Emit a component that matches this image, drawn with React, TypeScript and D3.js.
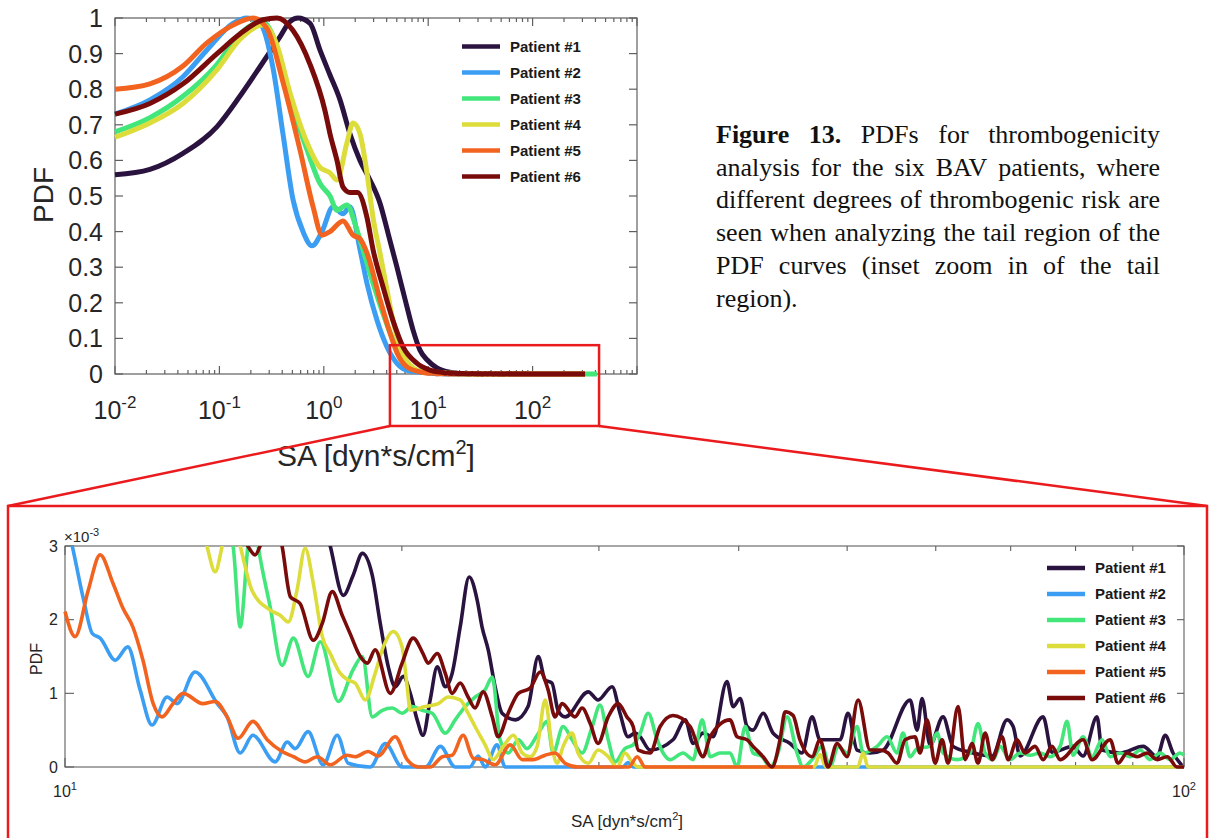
import React from "react";
import * as d3 from "d3";

type Pt = [number, number];

const patientNames = ["Patient #1", "Patient #2", "Patient #3", "Patient #4", "Patient #5", "Patient #6"];
const patientColors = ["#2b1340", "#3c9ef3", "#43e67b", "#dcdc3b", "#f1631f", "#7a0b0b"];

// Main body of each distribution: SA [dyn*s/cm^2] vs normalised PDF
const body1: Pt[] = [[0.01, 0.56], [0.0216, 0.575], [0.0448, 0.62], [0.095, 0.695], [0.157, 0.78], [0.245, 0.863], [0.38, 0.947], [0.474, 0.99], [0.566, 1.0], [0.738, 0.985], [0.92, 0.91], [1.146, 0.84], [1.43, 0.77], [1.78, 0.675], [2.22, 0.6], [2.77, 0.545], [3.45, 0.48], [4.12, 0.396], [5.02, 0.3], [6.0, 0.21], [7.15, 0.124], [8.34, 0.067], [9.75, 0.04], [12.1, 0.017]];
const body2: Pt[] = [[0.01, 0.73], [0.0216, 0.77], [0.0448, 0.835], [0.076, 0.91], [0.135, 0.985], [0.184, 1.0], [0.245, 0.985], [0.326, 0.86], [0.406, 0.675], [0.507, 0.49], [0.632, 0.4], [0.771, 0.36], [0.962, 0.4], [1.225, 0.47], [1.528, 0.45], [1.78, 0.47], [2.22, 0.35], [2.59, 0.255], [3.24, 0.15], [4.03, 0.076], [5.02, 0.03], [6.7, 0.008]];
const body3: Pt[] = [[0.01, 0.68], [0.0216, 0.72], [0.0448, 0.78], [0.095, 0.87], [0.157, 0.955], [0.26, 0.99], [0.326, 0.95], [0.474, 0.77], [0.69, 0.63], [0.92, 0.535], [1.146, 0.5], [1.337, 0.46], [1.667, 0.475], [2.0, 0.42], [2.37, 0.35], [2.96, 0.255], [3.69, 0.17], [4.6, 0.095], [5.74, 0.04], [7.82, 0.01]];
const body4: Pt[] = [[0.01, 0.665], [0.0216, 0.705], [0.0448, 0.76], [0.095, 0.855], [0.157, 0.94], [0.262, 0.98], [0.35, 0.93], [0.474, 0.79], [0.69, 0.65], [0.92, 0.58], [1.146, 0.565], [1.337, 0.545], [1.667, 0.65], [1.905, 0.705], [2.22, 0.675], [2.59, 0.565], [2.96, 0.44], [3.45, 0.34], [4.03, 0.236], [4.6, 0.15], [5.37, 0.076], [6.7, 0.025], [8.91, 0.006]];
const body5: Pt[] = [[0.01, 0.8], [0.0216, 0.815], [0.0448, 0.865], [0.076, 0.93], [0.135, 0.98], [0.21, 1.0], [0.286, 0.97], [0.406, 0.82], [0.591, 0.63], [0.789, 0.47], [0.962, 0.39], [1.146, 0.4], [1.528, 0.43], [1.905, 0.39], [2.22, 0.38], [2.59, 0.34], [3.45, 0.21], [4.31, 0.115], [5.02, 0.06], [6.26, 0.02], [8.34, 0.006]];
const body6: Pt[] = [[0.01, 0.73], [0.0216, 0.76], [0.0448, 0.815], [0.095, 0.9], [0.157, 0.955], [0.262, 0.995], [0.357, 1.0], [0.507, 0.965], [0.738, 0.87], [1.026, 0.74], [1.146, 0.675], [1.337, 0.6], [1.528, 0.525], [1.78, 0.51], [2.1, 0.51], [2.59, 0.44], [2.96, 0.35], [3.69, 0.245], [4.6, 0.15], [5.74, 0.076], [7.82, 0.03], [10.4, 0.011]];

// Tail region, SA 10-100 dyn*s/cm^2, PDF in units of 1e-3
const tail1: Pt[] = [[16.5, 4.2], [17.26, 3.0], [17.73, 2.33], [18.09, 2.6], [18.44, 2.9], [18.82, 2.6], [19.13, 1.95], [19.45, 1.36], [19.73, 1.09], [20.06, 1.23], [20.35, 1.0], [20.64, 0.64], [20.89, 0.43], [21.2, 0.91], [21.51, 1.36], [21.87, 1.09], [22.18, 1.27], [22.55, 1.9], [22.97, 2.58], [23.35, 2.27], [23.59, 1.9], [23.89, 1.59], [24.23, 1.09], [24.58, 0.73], [25.26, 0.64], [25.93, 0.82], [26.48, 1.5], [26.86, 1.18], [27.24, 1.14], [27.58, 0.77], [27.99, 0.68], [29.35, 1.02], [29.95, 0.91], [30.83, 1.09], [31.33, 0.73], [31.85, 0.41], [32.32, 0.46], [32.66, 0.41], [33.33, 0.23], [34.94, 0.37], [35.83, 0.64], [36.42, 0.32], [37.17, 0.46], [37.95, 0.41], [39.04, 1.16], [39.54, 0.82], [40.12, 0.93], [40.69, 0.55], [41.2, 0.5], [42.06, 0.73], [42.93, 0.46], [44.46, 0.32], [45.56, 0.19], [46.52, 0.68], [47.29, 0.37], [49.28, 0.37], [50.09, 0.73], [51.03, 0.23], [52.42, 0.19], [53.84, 0.23], [56.92, 0.91], [57.74, 0.5], [58.33, 0.93], [59.3, 0.3], [60.91, 0.68], [62.17, 0.28], [64.39, 0.2], [67.38, 0.15], [69.49, 0.64], [70.36, 0.55], [71.37, 0.15], [74.83, 0.68], [76.22, 0.2], [79.58, 0.28], [81.25, 0.15], [83.61, 0.68], [84.48, 0.23], [87.68, 0.19], [91.94, 0.28], [94.62, 0.14], [96.2, 0.43], [97.77, 0.19], [99.59, 0.02]];
const tail2: Pt[] = [[10.0, 3.4], [10.15, 3.0], [10.39, 2.27], [10.58, 1.81], [10.75, 1.75], [11.09, 1.45], [11.38, 1.63], [11.67, 1.05], [11.96, 0.57], [12.34, 0.95], [12.59, 0.86], [13.07, 1.29], [13.68, 0.86], [13.96, 0.68], [14.34, 0.19], [14.72, 0.43], [15.41, 0.07], [15.8, 0.34], [16.06, 0.25], [16.49, 0.48], [17.01, 0.03], [17.51, 0.43], [17.91, 0.05], [18.74, 0.0], [19.33, 0.32], [20.01, 0.0], [21.0, 0.0], [21.65, 0.28], [22.32, 0.0], [23.0, 0.0], [23.4, 0.15], [23.74, 0.0], [24.33, 0.3], [24.74, 0.0], [31.5, 0.0], [31.85, 0.06], [32.2, 0.0], [100, 0.0]];
const tail3: Pt[] = [[13.3, 4.0], [14.13, 3.0], [14.34, 1.9], [14.57, 3.0], [14.72, 3.5], [14.88, 3.0], [15.25, 2.18], [15.63, 1.38], [16.0, 1.75], [16.49, 1.23], [16.91, 1.7], [17.55, 0.89], [18.09, 1.32], [18.44, 1.5], [18.82, 0.68], [19.21, 0.77], [19.61, 0.8], [20.01, 0.73], [20.43, 0.82], [20.85, 0.77], [21.29, 0.73], [21.87, 0.46], [22.32, 0.64], [22.78, 0.82], [23.25, 0.95], [23.74, 1.05], [24.09, 1.22], [24.48, 0.37], [24.89, 0.19], [25.42, 0.37], [25.88, 0.25], [26.42, 0.43], [26.97, 0.62], [27.3, 0.19], [27.87, 0.55], [28.39, 0.37], [28.98, 0.19], [29.59, 0.55], [30.07, 0.84], [30.58, 0.37], [31.02, 0.07], [31.65, 0.25], [32.19, 0.3], [32.66, 0.46], [33.2, 0.73], [33.82, 0.37], [34.24, 0.19], [34.73, 0.1], [35.68, 0.19], [36.42, 0.1], [37.1, 0.64], [37.72, 0.14], [38.49, 0.19], [39.29, 0.19], [39.87, 0.0], [40.53, 0.55], [41.2, 0.19], [41.98, 0.14], [42.67, 0.0], [43.37, 0.19], [44.19, 0.68], [45.1, 0.19], [45.66, 0.0], [46.52, 0.1], [47.48, 0.28], [48.27, 0.0], [49.08, 0.28], [49.99, 0.19], [51.03, 0.55], [51.67, 0.19], [53.17, 0.28], [54.29, 0.41], [55.4, 0.19], [56.09, 0.46], [56.92, 0.14], [57.74, 0.25], [59.3, 0.28], [60.17, 0.46], [60.91, 0.19], [62.69, 0.1], [64.39, 0.19], [65.45, 0.59], [66.42, 0.19], [67.52, 0.1], [68.48, 0.28], [69.92, 0.1], [71.37, 0.19], [72.85, 0.16], [74.38, 0.19], [75.9, 0.14], [77.5, 0.28], [78.62, 0.62], [79.58, 0.16], [81.25, 0.41], [82.77, 0.14], [84.48, 0.37], [85.9, 0.14], [87.68, 0.19], [89.5, 0.14], [91.37, 0.23], [93.24, 0.1], [95.21, 0.19], [97.18, 0.1], [99.17, 0.19], [100, 0.16]];
const tail4: Pt[] = [[13.0, 3.8], [13.39, 3.0], [13.62, 2.65], [13.82, 3.0], [14.05, 3.5], [14.34, 3.0], [14.69, 2.4], [15.25, 2.13], [15.57, 2.06], [15.83, 1.97], [16.12, 2.4], [16.39, 2.97], [16.67, 2.49], [16.98, 1.77], [17.26, 1.54], [17.62, 1.27], [17.91, 1.18], [18.17, 1.14], [18.55, 0.91], [18.93, 1.27], [19.25, 1.63], [19.65, 1.84], [20.01, 1.63], [20.22, 1.09], [20.35, 0.77], [20.98, 0.82], [21.56, 0.86], [22.0, 0.95], [22.55, 0.91], [22.92, 0.73], [23.25, 0.55], [23.74, 0.3], [24.13, 0.1], [24.64, 0.28], [25.16, 0.43], [25.62, 0.19], [26.04, 0.14], [26.42, 0.28], [26.86, 0.91], [27.24, 0.28], [27.53, 0.05], [27.87, 0.28], [28.39, 0.46], [28.74, 0.19], [29.35, 0.05], [29.95, 0.23], [30.58, 0.14], [31.14, 0.0], [31.65, 0.19], [32.19, 0.05], [32.53, 0.0], [46.7, 0.0], [47.29, 0.17], [47.87, 0.0], [51.1, 0.0], [51.67, 0.19], [52.2, 0.0], [100, 0.0]];
const tail5: Pt[] = [[10.0, 2.11], [10.21, 1.77], [10.49, 2.4], [10.75, 2.88], [11.04, 2.49], [11.27, 2.15], [11.5, 1.9], [11.74, 1.45], [11.99, 0.86], [12.21, 0.68], [12.49, 0.86], [12.75, 1.0], [13.28, 0.86], [13.62, 0.89], [13.96, 0.68], [14.28, 0.39], [14.72, 0.62], [15.16, 0.37], [15.63, 0.21], [16.0, 0.14], [16.39, 0.07], [16.81, 0.14], [17.26, 0.03], [17.87, 0.16], [18.17, 0.14], [18.66, 0.21], [19.05, 0.15], [19.73, 0.41], [20.22, 0.1], [20.69, 0.0], [21.2, 0.0], [21.74, 0.14], [22.18, 0.16], [22.69, 0.43], [23.16, 0.12], [23.64, 0.1], [24.23, 0.03], [25.0, 0.3], [25.62, 0.1], [26.21, 0.1], [26.86, 0.16], [27.41, 0.19], [27.99, 0.05], [28.74, 0.0], [31.9, 0.0], [32.46, 0.14], [33.0, 0.0], [46.6, 0.0]];
const tail6: Pt[] = [[14.0, 3.8], [14.57, 3.0], [14.79, 2.88], [14.94, 3.0], [15.25, 3.5], [15.63, 3.0], [15.9, 2.31], [16.22, 2.22], [16.67, 1.72], [16.98, 1.95], [17.33, 2.38], [17.69, 2.06], [17.98, 1.81], [18.36, 1.5], [18.63, 1.41], [18.93, 1.59], [19.53, 1.0], [20.01, 1.41], [20.47, 1.75], [20.89, 1.54], [21.11, 1.41], [21.51, 1.54], [21.87, 1.27], [22.18, 1.0], [22.55, 1.14], [22.92, 0.95], [23.25, 0.8], [23.64, 1.02], [24.09, 0.68], [24.38, 0.41], [24.89, 0.73], [25.42, 1.0], [26.04, 1.07], [26.59, 1.29], [27.02, 1.05], [27.41, 0.68], [27.81, 0.86], [28.56, 0.68], [28.98, 0.8], [29.47, 0.59], [29.95, 0.32], [30.58, 0.68], [31.21, 0.86], [31.78, 0.68], [32.19, 0.55], [32.53, 0.23], [33.33, 0.19], [34.03, 0.55], [34.94, 0.7], [36.2, 0.55], [37.17, 0.14], [37.72, 0.41], [39.29, 0.64], [39.87, 0.41], [40.69, 0.37], [41.2, 0.28], [42.06, 0.14], [42.84, 0.0], [43.55, 0.37], [44.01, 0.75], [44.73, 0.7], [45.37, 0.37], [46.52, 0.14], [47.29, 0.37], [48.07, 0.0], [48.98, 0.32], [49.99, 0.14], [51.14, 0.91], [52.42, 0.23], [53.51, 0.23], [54.4, 0.19], [55.4, 0.05], [56.33, 0.37], [57.5, 0.41], [58.09, 0.19], [58.93, 0.64], [59.92, 0.05], [60.79, 0.37], [61.53, 0.05], [62.82, 0.82], [63.74, 0.1], [64.65, 0.32], [65.45, 0.05], [66.42, 0.46], [67.38, 0.1], [68.77, 0.41], [69.64, 0.1], [70.93, 0.37], [72.09, 0.19], [73.61, 0.28], [74.83, 0.1], [76.22, 0.28], [77.5, 0.1], [81.25, 0.37], [82.77, 0.1], [85.9, 0.37], [87.32, 0.05], [88.93, 0.19], [90.81, 0.14], [92.69, 0.19], [94.62, 0.1], [96.59, 0.14], [98.58, 0.0], [100, 0.0]];

// Largest SA sampled for each patient
const maxSA = [318, 318, 414, 318, 318, 318];

const overviewXLabels = [1e-2, 1e-1, 1e0, 1e1, 1e2];
const overviewYTicks = [0, 0.1, 0.2, 0.3, 0.4, 0.5, 0.6, 0.7, 0.8, 0.9, 1];
const insetXLabels = [10, 100];
const insetYTicks = [0, 1, 2, 3];

// Window of the overview that the inset enlarges (SA, PDF)
const zoomSA = [4.3, 433];
const zoomPDF = [-0.146, 0.081];

const captionLines = [
  "Figure 13. PDFs for thrombogenicity",
  "analysis for the six BAV patients, where",
  "different degrees of thrombogenic risk are",
  "seen when analyzing the tail region of the",
  "PDF curves (inset zoom in of the tail",
  "region).",
];
const captionBoldWords = 2;

const bodies = [body1, body2, body3, body4, body5, body6];
const tails = [tail1, tail2, tail3, tail4, tail5, tail6];

const SANS = "'Liberation Sans', Arial, Helvetica, sans-serif";
const SERIF = "'Liberation Serif', 'Times New Roman', Times, serif";
const AXIS = "#5f5f5f";
const INK = "#262626";
const RED = "#ea1a1d";

const OV = { left: 115, right: 637, top: 18, bottom: 374 };
const IN = { left: 65, right: 1184, top: 546, bottom: 767 };

const xOv = d3.scaleLog().domain([1e-2, 1e3]).range([OV.left, OV.right]);
const yOv = d3.scaleLinear().domain([0, 1]).range([OV.bottom, OV.top]);
const xIn = d3.scaleLog().domain([10, 100]).range([IN.left, IN.right]);
const yIn = d3.scaleLinear().domain([0, 3]).range([IN.bottom, IN.top]);

const isDecade = (v: number) => Math.abs(Math.log10(v) - Math.round(Math.log10(v))) < 1e-6;

// full curve for the overview: body, then the tail (rescaled), then the last sample
const overviewSeries: Pt[][] = bodies.map((b, i) => {
  const t = tails[i];
  const start = t[0][0];
  return [
    ...b.filter((p) => p[0] < start),
    ...t.map(([s, v]) => [s, v * 1e-3] as Pt),
    [maxSA[i], 0] as Pt,
  ];
});

const ovLine = d3
  .line<Pt>()
  .x((d) => xOv(d[0]))
  .y((d) => yOv(d[1]))
  .curve(d3.curveMonotoneX);

const inLine = d3
  .line<Pt>()
  .x((d) => xIn(d[0]))
  .y((d) => yIn(d[1]))
  .curve(d3.curveMonotoneX);

let measureCtx: CanvasRenderingContext2D | null = null;
function measure(text: string, font: string): number {
  if (!measureCtx && typeof document !== "undefined") {
    measureCtx = document.createElement("canvas").getContext("2d");
  }
  if (!measureCtx) return text.length * 12;
  measureCtx.font = font;
  return measureCtx.measureText(text).width;
}

function Pow10({ x, y, exp, size, supSize, lift }: { x: number; y: number; exp: number; size: number; supSize: number; lift: number }) {
  return (
    <text x={x} y={y} textAnchor="middle" fontSize={size} fill={INK} fontFamily={SANS}>
      <tspan>10</tspan>
      <tspan dy={-lift} fontSize={supSize}>
        {String(exp)}
      </tspan>
    </text>
  );
}

function Caption() {
  const left = 716;
  const right = 1160;
  const top = 143;
  const lh = 32.7;
  const size = 26;
  const out: React.ReactNode[] = [];
  captionLines.forEach((line, li) => {
    const words = line.split(" ");
    const bold = words.map((_, wi) => li === 0 && wi < captionBoldWords);
    const fonts = bold.map((b) => `${b ? "bold " : ""}${size}px ${SERIF}`);
    const widths = words.map((w, wi) => measure(w, fonts[wi]));
    const last = li === captionLines.length - 1;
    const gap =
      last || words.length < 2
        ? measure(" ", fonts[0])
        : (right - left - d3.sum(widths)) / (words.length - 1);
    let x = left;
    words.forEach((w, wi) => {
      out.push(
        <text key={`${li}-${wi}`} x={x} y={top + li * lh} fontWeight={bold[wi] ? "bold" : "normal"}>
          {w}
        </text>
      );
      x += widths[wi] + gap;
    });
  });
  return (
    <g fontFamily={SERIF} fontSize={size} fill="#111">
      {out}
    </g>
  );
}

function Legend({ x, y, step, size }: { x: number; y: number; step: number; size: number }) {
  return (
    <g>
      {patientNames.map((name, i) => (
        <g key={name} transform={`translate(${x},${y + i * step})`}>
          <line x1={0} x2={38} y1={0} y2={0} stroke={patientColors[i]} strokeWidth={4.5} />
          <text x={48} y={0} dy="0.36em" fontFamily={SANS} fontWeight="bold" fontSize={size} fill="#1a1a1a">
            {name}
          </text>
        </g>
      ))}
    </g>
  );
}

function Overview() {
  const ticks = xOv.ticks();
  return (
    <g>
      <g stroke={AXIS} strokeWidth={1.2} fill="none">
        <rect x={OV.left} y={OV.top} width={OV.right - OV.left} height={OV.bottom - OV.top} />
        {ticks.map((t, i) => {
          const len = isDecade(t) ? 8 : 4;
          const x = xOv(t);
          return (
            <g key={i}>
              <line x1={x} x2={x} y1={OV.bottom} y2={OV.bottom - len} />
              <line x1={x} x2={x} y1={OV.top} y2={OV.top + len} />
            </g>
          );
        })}
        {overviewYTicks.map((t) => (
          <g key={t}>
            <line x1={OV.left} x2={OV.left + 8} y1={yOv(t)} y2={yOv(t)} />
            <line x1={OV.right} x2={OV.right - 8} y1={yOv(t)} y2={yOv(t)} />
          </g>
        ))}
      </g>
      {overviewSeries.map((s, i) => (
        <path
          key={i}
          d={ovLine(s) || ""}
          fill="none"
          stroke={patientColors[i]}
          strokeWidth={5}
          strokeLinejoin="round"
        />
      ))}
      {overviewYTicks.map((t) => (
        <text
          key={t}
          x={OV.left - 12}
          y={yOv(t)}
          dy="0.36em"
          textAnchor="end"
          fontFamily={SANS}
          fontSize={25}
          fill={INK}
        >
          {t === 0 || t === 1 ? String(t) : t.toFixed(1)}
        </text>
      ))}
      {overviewXLabels.map((t) => (
        <Pow10 key={t} x={xOv(t)} y={419} exp={Math.round(Math.log10(t))} size={25} supSize={17} lift={11} />
      ))}
      <text transform={`translate(53,195) rotate(-90)`} textAnchor="middle" fontFamily={SANS} fontSize={28} fill={INK}>
        PDF
      </text>
      <text x={376} y={466} textAnchor="middle" fontFamily={SANS} fontSize={30} fill={INK}>
        <tspan>SA [dyn*s/cm</tspan>
        <tspan dy={-12} fontSize={20}>
          2
        </tspan>
        <tspan dy={12}>]</tspan>
      </text>
      <Legend x={462} y={46.5} step={26} size={15} />
    </g>
  );
}

function Inset() {
  const ticks = xIn.ticks();
  return (
    <g>
      <defs>
        <clipPath id="inset-clip">
          <rect x={IN.left - 3} y={IN.top} width={IN.right - IN.left + 6} height={IN.bottom - IN.top + 4} />
        </clipPath>
      </defs>
      <g stroke={AXIS} strokeWidth={1.1} fill="none">
        <rect x={IN.left} y={IN.top} width={IN.right - IN.left} height={IN.bottom - IN.top} />
        {ticks.map((t, i) => {
          const len = isDecade(t) ? 9 : 5;
          const x = xIn(t);
          return (
            <g key={i}>
              <line x1={x} x2={x} y1={IN.bottom} y2={IN.bottom - len} />
              <line x1={x} x2={x} y1={IN.top} y2={IN.top + len} />
            </g>
          );
        })}
        {insetYTicks.map((t) => (
          <g key={t}>
            <line x1={IN.left} x2={IN.left + 9} y1={yIn(t)} y2={yIn(t)} />
            <line x1={IN.right} x2={IN.right - 7} y1={yIn(t)} y2={yIn(t)} />
          </g>
        ))}
      </g>
      <g clipPath="url(#inset-clip)">
        {tails.map((s, i) => (
          <path
            key={i}
            d={inLine(s) || ""}
            fill="none"
            stroke={patientColors[i]}
            strokeWidth={3.6}
            strokeLinejoin="round"
          />
        ))}
      </g>
      {insetYTicks.map((t) => (
        <text key={t} x={IN.left - 7} y={yIn(t)} dy="0.36em" textAnchor="end" fontFamily={SANS} fontSize={16} fill={INK}>
          {String(t)}
        </text>
      ))}
      <text x={IN.left - 1} y={542} fontFamily={SANS} fontSize={15} fill={INK}>
        <tspan>×10</tspan>
        <tspan dy={-6} fontSize={11}>
          -3
        </tspan>
      </text>
      {insetXLabels.map((t) => (
        <Pow10 key={t} x={xIn(t)} y={797} exp={Math.round(Math.log10(t))} size={16} supSize={11} lift={7} />
      ))}
      <text transform={`translate(42,659) rotate(-90)`} textAnchor="middle" fontFamily={SANS} fontSize={16} fill={INK}>
        PDF
      </text>
      <text x={627} y={827} textAnchor="middle" fontFamily={SANS} fontSize={17} fill={INK}>
        <tspan>SA [dyn*s/cm</tspan>
        <tspan dy={-7} fontSize={11}>
          2
        </tspan>
        <tspan dy={7}>]</tspan>
      </text>
      <Legend x={1047} y={568} step={26} size={15} />
    </g>
  );
}

function ZoomFrame() {
  const zx0 = xOv(zoomSA[0]);
  const zx1 = xOv(zoomSA[1]);
  const zy0 = yOv(zoomPDF[1]);
  const zy1 = yOv(zoomPDF[0]);
  const box = { left: 8, right: 1207, top: 506, bottom: 900 };
  return (
    <g stroke={RED} strokeWidth={2.5} fill="none">
      <rect x={zx0} y={zy0} width={zx1 - zx0} height={zy1 - zy0} />
      <line x1={zx0} y1={zy1} x2={box.left} y2={box.top} />
      <line x1={zx1} y1={zy1} x2={box.right} y2={box.top} />
      <rect x={box.left} y={box.top} width={box.right - box.left} height={box.bottom - box.top} />
    </g>
  );
}

export default function App() {
  return (
    <svg
      width={1209}
      height={838}
      viewBox="0 0 1209 838"
      style={{ position: "absolute", left: 0, top: 0, display: "block", background: "#fff" }}
    >
      <rect x={0} y={0} width={1209} height={838} fill="#fff" />
      <Overview />
      <ZoomFrame />
      <Inset />
      <Caption />
    </svg>
  );
}
